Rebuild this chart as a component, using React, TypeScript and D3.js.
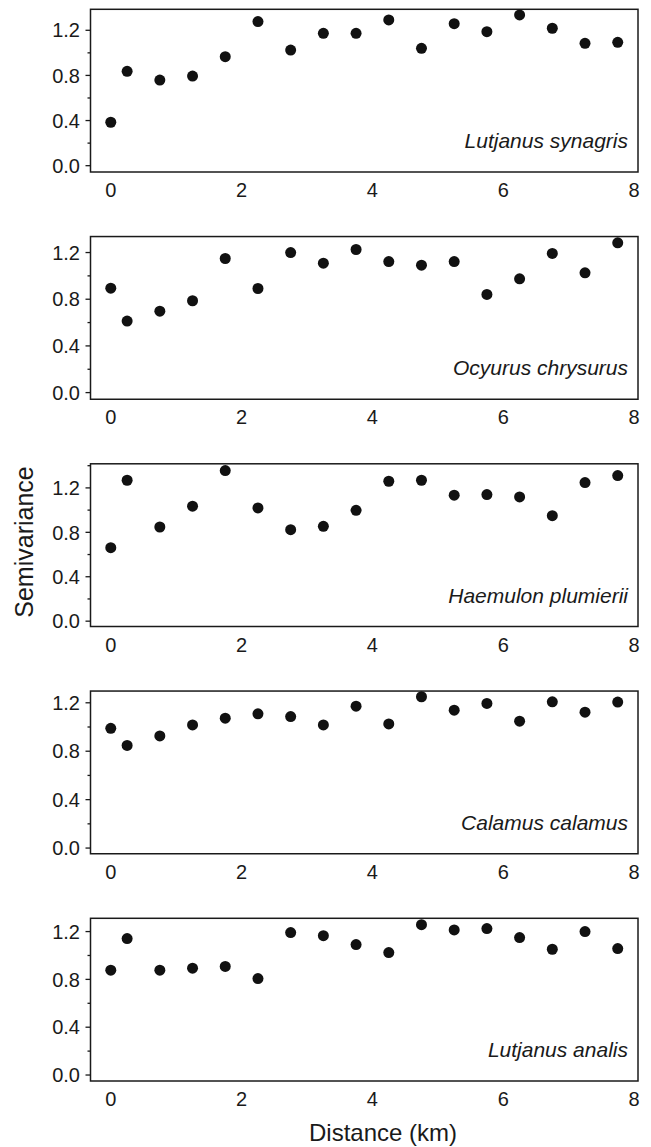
import React, { useRef, useEffect } from 'react';
import * as d3 from 'd3';

// distance lags (km)
const lags = [0, 0.25, 0.75, 1.25, 1.75, 2.25, 2.75, 3.25, 3.75, 4.25, 4.75, 5.25, 5.75, 6.25, 6.75, 7.25, 7.75];

const species = ['Lutjanus synagris', 'Ocyurus chrysurus', 'Haemulon plumierii', 'Calamus calamus', 'Lutjanus analis'];

const lutjanusSynagris = [0.385, 0.836, 0.759, 0.794, 0.966, 1.277, 1.025, 1.173, 1.173, 1.292, 1.04, 1.259, 1.188, 1.336, 1.218, 1.084, 1.093];
const ocyurusChrysurus = [0.895, 0.613, 0.698, 0.787, 1.149, 0.892, 1.2, 1.109, 1.226, 1.123, 1.092, 1.123, 0.841, 0.975, 1.192, 1.026, 1.283];
const haemulonPlumierii = [0.662, 1.269, 0.848, 1.035, 1.356, 1.02, 0.824, 0.854, 0.998, 1.26, 1.269, 1.134, 1.14, 1.119, 0.95, 1.248, 1.311];
const calamusCalamus = [0.989, 0.848, 0.926, 1.017, 1.073, 1.109, 1.086, 1.017, 1.172, 1.025, 1.25, 1.139, 1.195, 1.048, 1.208, 1.122, 1.206];
const lutjanusAnalis = [0.877, 1.141, 0.877, 0.894, 0.908, 0.807, 1.192, 1.166, 1.091, 1.024, 1.258, 1.214, 1.225, 1.15, 1.052, 1.2, 1.058];

const seriesValues = [lutjanusSynagris, ocyurusChrysurus, haemulonPlumierii, calamusCalamus, lutjanusAnalis];

// y axis ranges per panel
const yDomains: [number, number][] = [
  [-0.056, 1.386],
  [-0.057, 1.337],
  [-0.048, 1.417],
  [-0.047, 1.297],
  [-0.05, 1.311],
];

const xTicks = [0, 2, 4, 6, 8];
const yMajorTicks = [0, 0.4, 0.8, 1.2];
const yMinorTicks = [0.2, 0.6, 1.0, 1.4];

const WIDTH = 651;
const HEIGHT = 1147;
const FONT = '"Liberation Sans", Arial, Helvetica, sans-serif';

const App = () => {
  const svgRef = useRef<SVGSVGElement>(null);

  useEffect(() => {
    const svg = d3.select(svgRef.current);
    svg.selectAll('*').remove();

    const left = 90.5;
    const right = 638;
    const firstTop = 9.3;
    const panelStep = 227.25;
    const panelHeight = 162.7;
    const ink = '#1a1a1a';

    const x = d3.scaleLinear().domain([-0.31, 8.06]).range([left, right]);

    species.forEach((name, i) => {
      const top = firstTop + i * panelStep;
      const bottom = top + panelHeight;
      const y = d3.scaleLinear().domain(yDomains[i]).range([bottom, top]);
      const [lo, hi] = yDomains[i];

      const g = svg.append('g');

      // frame
      g.append('rect')
        .attr('x', left)
        .attr('y', top)
        .attr('width', right - left)
        .attr('height', bottom - top)
        .attr('fill', 'none')
        .attr('stroke', ink)
        .attr('stroke-width', 1.5);

      // y ticks
      g.selectAll('.major')
        .data(yMajorTicks.filter(t => t >= lo && t <= hi))
        .enter()
        .append('line')
        .attr('x1', left - 5)
        .attr('x2', left)
        .attr('y1', d => y(d))
        .attr('y2', d => y(d))
        .attr('stroke', ink)
        .attr('stroke-width', 1.3);

      g.selectAll('.minor')
        .data(yMinorTicks.filter(t => t >= lo && t <= hi))
        .enter()
        .append('line')
        .attr('x1', left - 3)
        .attr('x2', left)
        .attr('y1', d => y(d))
        .attr('y2', d => y(d))
        .attr('stroke', ink)
        .attr('stroke-width', 1.3);

      g.selectAll('.ylab')
        .data(yMajorTicks.filter(t => t >= lo && t <= hi))
        .enter()
        .append('text')
        .attr('x', left - 10.5)
        .attr('y', d => y(d))
        .attr('dy', '0.36em')
        .attr('text-anchor', 'end')
        .style('font-family', FONT)
        .style('font-size', '20px')
        .style('fill', ink)
        .text(d => d.toFixed(1));

      // x labels (no tick marks)
      g.selectAll('.xlab')
        .data(xTicks)
        .enter()
        .append('text')
        .attr('x', d => x(d))
        .attr('y', bottom + 25)
        .attr('text-anchor', 'middle')
        .style('font-family', FONT)
        .style('font-size', '20px')
        .style('fill', ink)
        .text(d => String(d));

      // points
      g.selectAll('.dot')
        .data(lags.map((d, k) => ({ d, v: seriesValues[i][k] })))
        .enter()
        .append('circle')
        .attr('cx', p => x(p.d))
        .attr('cy', p => y(p.v))
        .attr('r', 5.5)
        .attr('fill', '#111');

      // species name
      g.append('text')
        .attr('x', right - 10)
        .attr('y', bottom - 24)
        .attr('text-anchor', 'end')
        .style('font-family', FONT)
        .style('font-style', 'italic')
        .style('font-size', '21px')
        .style('fill', ink)
        .text(name);
    });

    svg.append('text')
      .attr('transform', `translate(33, 542) rotate(-90)`)
      .attr('text-anchor', 'middle')
      .style('font-family', FONT)
      .style('font-size', '25px')
      .style('fill', ink)
      .text('Semivariance');

    svg.append('text')
      .attr('x', 383)
      .attr('y', 1141)
      .attr('text-anchor', 'middle')
      .style('font-family', FONT)
      .style('font-size', '24px')
      .style('fill', ink)
      .text('Distance (km)');
  }, []);

  return (
    <svg
      ref={svgRef}
      width={WIDTH}
      height={HEIGHT}
      style={{ position: 'absolute', left: 0, top: 0, background: '#fff' }}
    />
  );
};

export default App;
